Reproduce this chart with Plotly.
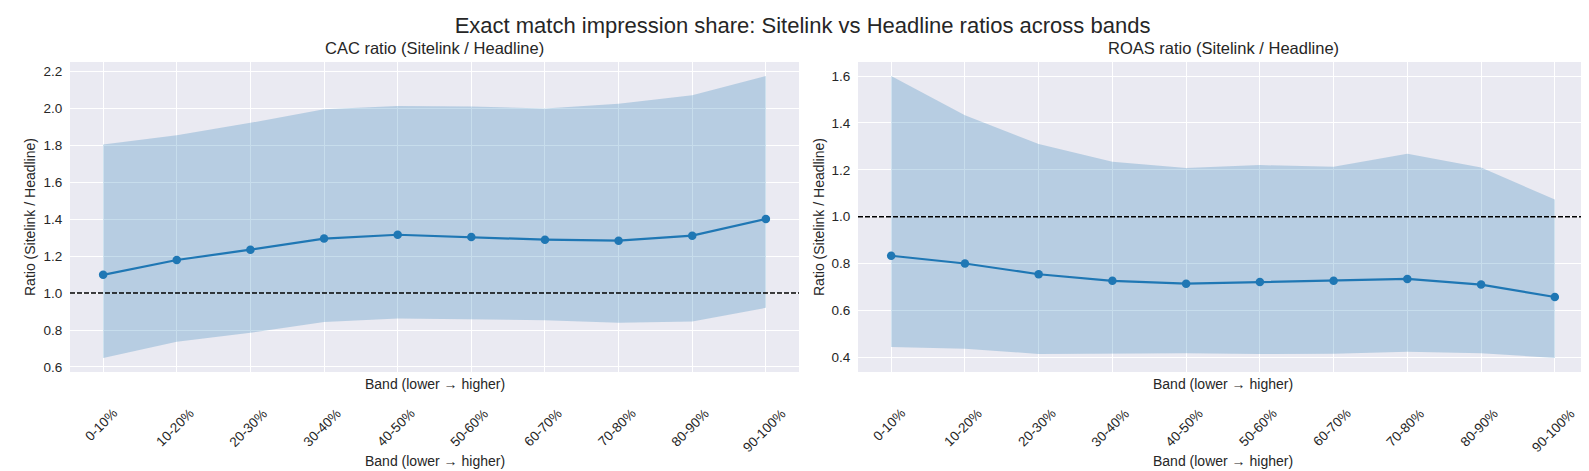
import plotly.graph_objects as go

bands = ["0-10%", "10-20%", "20-30%", "30-40%", "40-50%",
         "50-60%", "60-70%", "70-80%", "80-90%", "90-100%"]

cac_ratio = [1.099, 1.179, 1.235, 1.295, 1.316, 1.304, 1.289, 1.284, 1.311, 1.401]
cac_upper = [1.805, 1.855, 1.922, 1.996, 2.013, 2.011, 2.000, 2.025, 2.071, 2.175]
cac_lower = [0.649, 0.737, 0.785, 0.843, 0.862, 0.857, 0.853, 0.839, 0.846, 0.920]

roas_ratio = [0.833, 0.800, 0.754, 0.726, 0.714, 0.721, 0.726, 0.734, 0.710, 0.657]
roas_upper = [1.600, 1.433, 1.310, 1.234, 1.208, 1.220, 1.213, 1.268, 1.210, 1.073]
roas_lower = [0.444, 0.436, 0.414, 0.415, 0.417, 0.414, 0.415, 0.423, 0.417, 0.397]

cac_ticks = [0.6, 0.8, 1.0, 1.2, 1.4, 1.6, 1.8, 2.0, 2.2]
roas_ticks = [0.4, 0.6, 0.8, 1.0, 1.2, 1.4, 1.6]

suptitle = "Exact match impression share: Sitelink vs Headline ratios across bands"
titles = ["CAC ratio (Sitelink / Headline)", "ROAS ratio (Sitelink / Headline)"]
xlabel = "Band (lower \u2192 higher)"
ylabel = "Ratio (Sitelink / Headline)"

FONT = "Liberation Sans, Arial, sans-serif"
TXT = "#262626"
BLUE = "#1f77b4"
FILL = "rgba(31,119,180,0.25)"
BG = "#EAEAF2"

W, H = 1589, 471
ML, MR, MT, MB = 62, 9, 54, 107
PW = W - ML - MR
PH = H - MT - MB


def px_to_paper_y(py):
    return (H - MB - py) / PH


def px_to_paper_x(px):
    return (px - ML) / PW


def padded(lo, hi):
    span = hi - lo
    return [lo - 0.05 * span, hi + 0.05 * span]


fig = go.Figure()

panels = [
    ("x", "y", cac_ratio, cac_lower, cac_upper, cac_ticks),
    ("x2", "y2", roas_ratio, roas_lower, roas_upper, roas_ticks),
]

for xa, ya, mid, lo, hi, ticks in panels:
    fig.add_trace(go.Scatter(x=bands, y=lo, mode="lines", line=dict(width=0, color=FILL),
                             xaxis=xa, yaxis=ya, showlegend=False, hoverinfo="skip"))
    fig.add_trace(go.Scatter(x=bands, y=hi, mode="lines", line=dict(width=0, color=FILL),
                             fill="tonexty", fillcolor=FILL,
                             xaxis=xa, yaxis=ya, showlegend=False, hoverinfo="skip"))
    fig.add_trace(go.Scatter(x=bands, y=mid, mode="lines+markers",
                             line=dict(color=BLUE, width=2.2),
                             marker=dict(color=BLUE, size=8.5),
                             xaxis=xa, yaxis=ya, showlegend=False))

dom1 = [0, px_to_paper_x(791)]
dom2 = [px_to_paper_x(850), 1]

axis_common = dict(showgrid=True, gridcolor="white", gridwidth=1, zeroline=False,
                   showline=False, ticks="outside", ticklen=4, tickcolor="rgba(0,0,0,0)",
                   tickfont=dict(family=FONT, size=13.5, color=TXT))

fig.update_layout(
    width=W, height=H,
    margin=dict(l=ML, r=MR, t=MT, b=MB, pad=0),
    paper_bgcolor="white", plot_bgcolor=BG,
    font=dict(family=FONT, color=TXT),
    title=dict(text=suptitle, x=0.5, xref="container", xanchor="center",
               y=1 - 17 / H, yref="container", yanchor="middle",
               font=dict(family=FONT, size=22, color=TXT)),
    xaxis=dict(domain=dom1, anchor="y", type="category", categoryorder="array",
               categoryarray=bands, range=[-0.45, 9.45], showticklabels=False, **axis_common),
    yaxis=dict(domain=[0, 1], anchor="x", range=padded(min(cac_lower), max(cac_upper)),
               tickvals=cac_ticks, ticktext=[f"{t:.1f}" for t in cac_ticks], **axis_common),
    xaxis2=dict(domain=dom2, anchor="y2", type="category", categoryorder="array",
                categoryarray=bands, range=[-0.45, 9.45], showticklabels=False, **axis_common),
    yaxis2=dict(domain=[0, 1], anchor="x2", range=padded(min(roas_lower), max(roas_upper)),
                tickvals=roas_ticks, ticktext=[f"{t:.1f}" for t in roas_ticks], **axis_common),
)

annotations = []
shapes = []
ytitle_px = [22, 811]
for i, (xa, ya) in enumerate([("x", "y"), ("x2", "y2")]):
    dom = dom1 if i == 0 else dom2
    cx = (dom[0] + dom[1]) / 2
    annotations.append(dict(text=titles[i], x=cx, xref="paper", y=px_to_paper_y(40),
                            yref="paper", xanchor="center", yanchor="middle", showarrow=False,
                            font=dict(family=FONT, size=16.5, color=TXT)))
    annotations.append(dict(text=ylabel, x=px_to_paper_x(ytitle_px[i]), xref="paper",
                            y=0.5, yref="paper", xanchor="center", yanchor="middle",
                            textangle=-90, showarrow=False,
                            font=dict(family=FONT, size=14, color=TXT)))
    annotations.append(dict(text=xlabel, x=cx, xref="paper", y=px_to_paper_y(376),
                            yref="paper", xanchor="center", yanchor="middle", showarrow=False,
                            font=dict(family=FONT, size=14, color=TXT)))
    annotations.append(dict(text=xlabel, x=cx, xref="paper", y=px_to_paper_y(453),
                            yref="paper", xanchor="center", yanchor="middle", showarrow=False,
                            font=dict(family=FONT, size=14, color=TXT)))
    for b in bands:
        annotations.append(dict(text=b, x=b, xref=xa, y=px_to_paper_y(395), yref="paper",
                                xanchor="center", yanchor="top", textangle=-45,
                                showarrow=False, xshift=-1.5,
                                font=dict(family=FONT, size=13.5, color=TXT)))
    shapes.append(dict(type="line", xref=f"{xa} domain", yref=ya, x0=0, x1=1, y0=1.0, y1=1.0,
                       line=dict(color="black", width=1.5, dash="5px,2px"), layer="above"))

fig.update_layout(annotations=annotations, shapes=shapes)

fig.write_html("out.html")
